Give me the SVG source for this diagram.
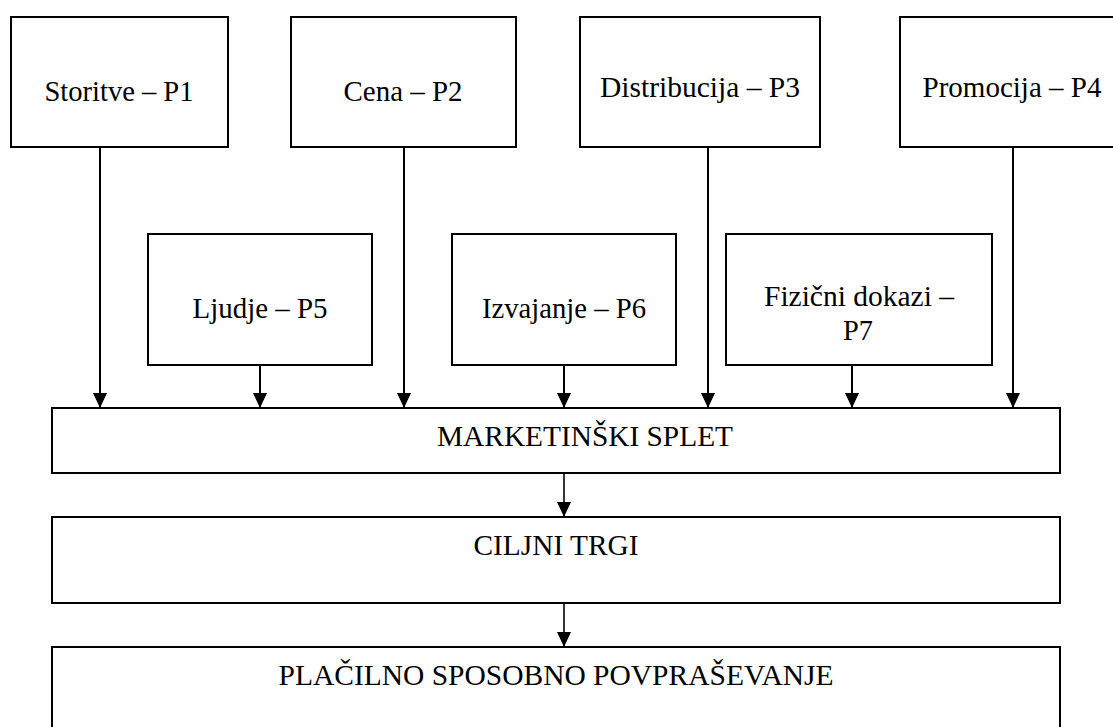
<svg xmlns="http://www.w3.org/2000/svg" width="1113" height="727" viewBox="0 0 1113 727">
<style>
.box{fill:#fff;stroke:#000;stroke-width:2}
.t{font-family:"Liberation Serif","Times New Roman",serif;font-size:30px;fill:#000;text-anchor:middle}
.c{stroke:#000;stroke-width:2;fill:none;marker-end:url(#ah)}
.c2{stroke:#000;stroke-width:1.6;fill:none;marker-end:url(#ah)}
</style>
<defs>
<marker id="ah" viewBox="0 0 15 14" refX="15" refY="7" markerWidth="15" markerHeight="14" markerUnits="userSpaceOnUse" orient="auto">
<path d="M0,0 L15,7 L0,14 z" fill="#000"/>
</marker>
</defs>
<rect width="1113" height="727" fill="#fff"/>
<g id="p1"><rect class="box" x="11" y="17" width="217" height="130"/><text class="t" x="119" y="101" textLength="149" lengthAdjust="spacingAndGlyphs">Storitve – P1</text></g>
<g id="p2"><rect class="box" x="291" y="17" width="225" height="130"/><text class="t" x="403" y="101" textLength="119" lengthAdjust="spacingAndGlyphs">Cena – P2</text></g>
<g id="p3"><rect class="box" x="580" y="17" width="240" height="130"/><text class="t" x="700" y="97" textLength="200" lengthAdjust="spacingAndGlyphs">Distribucija – P3</text></g>
<g id="p4"><rect class="box" x="900" y="17" width="224" height="130"/><text class="t" x="1012" y="97" textLength="179" lengthAdjust="spacingAndGlyphs">Promocija – P4</text></g>
<g id="p5"><rect class="box" x="148" y="234" width="224" height="131"/><text class="t" x="260" y="318" textLength="135" lengthAdjust="spacingAndGlyphs">Ljudje – P5</text></g>
<g id="p6"><rect class="box" x="452" y="234" width="224" height="131"/><text class="t" x="564" y="318" textLength="164" lengthAdjust="spacingAndGlyphs">Izvajanje – P6</text></g>
<g id="p7"><rect class="box" x="726" y="234" width="266" height="131"/><text class="t" x="859" y="306" textLength="190" lengthAdjust="spacingAndGlyphs">Fizični dokazi –</text><text class="t" x="858" y="340" textLength="30" lengthAdjust="spacingAndGlyphs">P7</text></g>
<g id="ms"><rect class="box" x="52" y="408" width="1008" height="65"/><text class="t" x="585" y="446" textLength="296" lengthAdjust="spacingAndGlyphs">MARKETINŠKI SPLET</text></g>
<g id="ct"><rect class="box" x="52" y="517" width="1008" height="86"/><text class="t" x="556" y="555" textLength="165" lengthAdjust="spacingAndGlyphs">CILJNI TRGI</text></g>
<g id="psp"><rect class="box" x="52" y="647" width="1008" height="100"/><text class="t" x="556" y="685" textLength="555" lengthAdjust="spacingAndGlyphs">PLAČILNO SPOSOBNO POVPRAŠEVANJE</text></g>
<g id="connectors">
<line class="c" x1="100" y1="147" x2="100" y2="408"/>
<line class="c" x1="404" y1="147" x2="404" y2="408"/>
<line class="c" x1="708" y1="147" x2="708" y2="408"/>
<line class="c" x1="1013" y1="147" x2="1013" y2="408"/>
<line class="c" x1="260" y1="365" x2="260" y2="408"/>
<line class="c" x1="564" y1="365" x2="564" y2="408"/>
<line class="c" x1="852" y1="365" x2="852" y2="408"/>
<line class="c2" x1="564" y1="473" x2="564" y2="517"/>
<line class="c2" x1="564" y1="603" x2="564" y2="647"/>
</g>
</svg>
